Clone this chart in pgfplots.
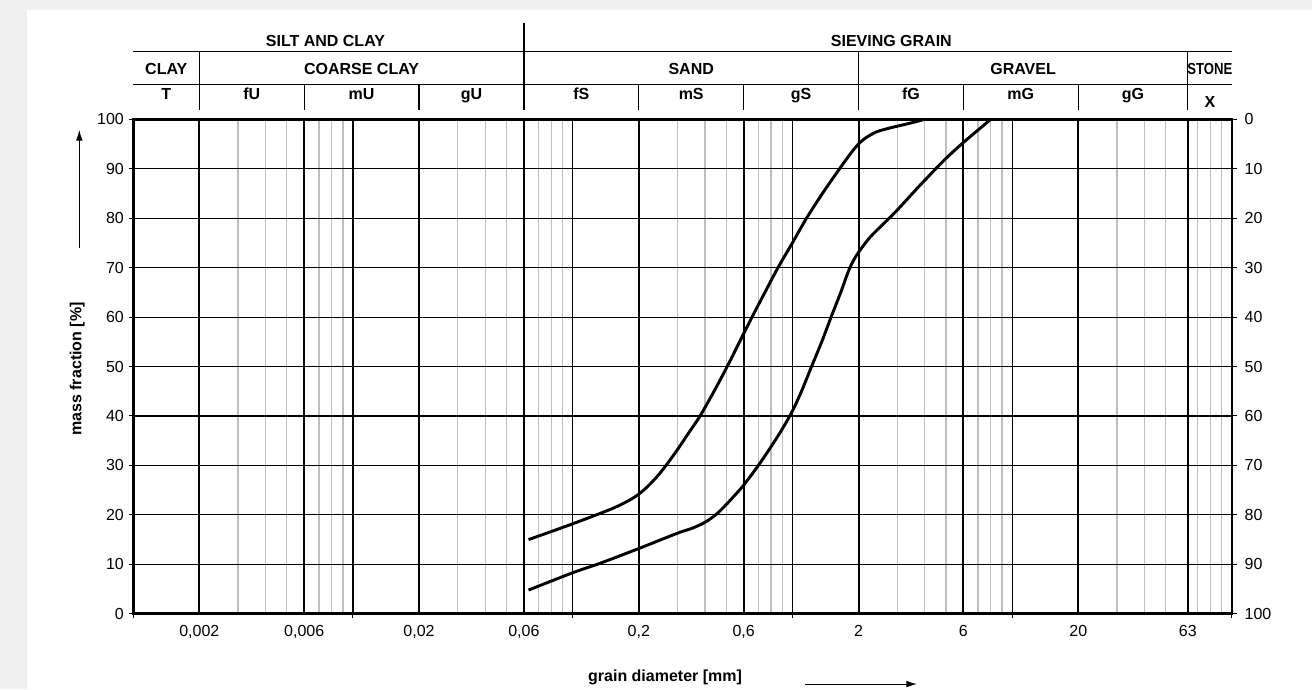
\documentclass[border=0pt]{standalone}
\usepackage{fontspec}
\setmainfont{Liberation Sans}
\usepackage{pgfplots}
\pgfplotsset{compat=1.18}
\usetikzlibrary{arrows.meta}
\definecolor{bg}{HTML}{F0F0F0}
\definecolor{thin}{HTML}{707070}
\newcommand\hf{\fontsize{12}{14}\selectfont\bfseries}
\newcommand\tf{\fontsize{12}{14}\selectfont}

\begin{document}
\begin{tikzpicture}
% page background and white panel (1 px = 0.75pt)
\fill[bg] (-99.9pt,-56.4pt) rectangle (884.1pt,460.35pt);
\fill[white] (-79.65pt,-56.4pt) rectangle (884.1pt,452.85pt);

\begin{axis}[
    at={(0,0)}, anchor=south west,
    scale only axis, width=824pt, height=370.9pt,
    xmode=log, xmin=0.001, xmax=100,
    ymin=0, ymax=100,
    clip=false,
    axis line style={line width=2pt},
    xtick={0.001,0.01,0.1,1,10,100}, xticklabels={},
    minor xtick={0.003,0.004,0.005,0.007,0.008,0.009,
                 0.03,0.04,0.05,0.07,0.08,0.09,
                 0.3,0.4,0.5,0.7,0.8,0.9,
                 3,4,5,7,8,9,
                 30,40,50,70,80,90},
    ytick={0,10,...,100},
    xtick pos=left, ytick pos=left,
    tick align=outside,
    major tick length=3.5pt, minor tick length=0pt,
    tick style={black, line width=0.75pt},
    xmajorgrids, xminorgrids, ymajorgrids,
    major grid style={black, line width=0.8pt},
    major x grid style={thin, line width=0.95pt},
    minor x grid style={thin, line width=0.95pt},
    extra x ticks={0.002,0.006,0.02,0.06,0.2,0.6,2,6,20,63},
    extra x tick labels={{0,002},{0,006},{0,02},{0,06},{0,2},{0,6},2,6,20,63},
    extra x tick style={
        grid=major, major tick length=0pt,
        major x grid style={black, line width=1.5pt},
        xticklabel style={yshift=-5pt}},
    tick label style={font=\tf},
    /pgf/number format/assume math mode=true,
]

% grading curves
\addplot[black, line width=2.2pt, smooth] coordinates {
    (0.063,15) (0.1,18.2) (0.15,21.2) (0.18,22.9) (0.2,24.2) (0.22,25.8)
    (0.245,28) (0.27,30.4) (0.3,33.2) (0.34,36.8) (0.38,40) (0.44,45)
    (0.505,50) (0.575,55) (0.65,59.7) (0.75,65) (0.86,70) (1.0,75)
    (1.16,80) (1.37,85) (1.64,90) (1.85,93.2) (2.0,95) (2.15,96.2)
    (2.4,97.4) (2.7,98.1) (3.0,98.6) (3.5,99.3) (4.0,100)
};
\addplot[black, line width=2.2pt, smooth] coordinates {
    (0.063,4.8) (0.1,8.3) (0.133,10.2) (0.2,13.2) (0.3,16.3) (0.35,17.3)
    (0.4,18.5) (0.45,20.1) (0.5,22.1) (0.55,24.1) (0.6,26) (0.7,30)
    (0.8,33.8) (0.9,37.4) (1.0,41) (1.1,45) (1.23,50.3) (1.36,55)
    (1.5,60) (1.66,65) (1.8,69.3) (1.9,71.5) (2.0,73.1) (2.15,75)
    (2.33,76.8) (2.95,81.3) (3.8,86.6) (4.9,91.7) (6.0,95.3) (8.0,100)
};

% header table
\draw[line width=0.9pt] (axis cs:0.001,113.67) -- (axis cs:100,113.67);
\draw[line width=0.9pt] (axis cs:0.001,107.08) -- (axis cs:100,107.08);
\draw[line width=0.9pt] (axis cs:0.06,119.41) -- (axis cs:0.06,101.88);
\draw[line width=0.9pt] (axis cs:0.002,113.67) -- (axis cs:0.002,101.88);
\draw[line width=0.9pt] (axis cs:2,113.67) -- (axis cs:2,101.88);
\draw[line width=0.9pt] (axis cs:63,113.67) -- (axis cs:63,101.88);
\draw[line width=0.9pt] (axis cs:0.006,107.08) -- (axis cs:0.006,101.88);
\draw[line width=0.9pt] (axis cs:0.02,107.08) -- (axis cs:0.02,101.88);
\draw[line width=0.9pt] (axis cs:0.2,107.08) -- (axis cs:0.2,101.88);
\draw[line width=0.9pt] (axis cs:0.6,107.08) -- (axis cs:0.6,101.88);
\draw[line width=0.9pt] (axis cs:6,107.08) -- (axis cs:6,101.88);
\draw[line width=0.9pt] (axis cs:20,107.08) -- (axis cs:20,101.88);

\node[font=\hf, anchor=base] at (axis cs:0.0075,114.68) {SILT AND CLAY};
\node[font=\hf, anchor=base] at (axis cs:2.82,114.68) {SIEVING GRAIN};

\node[font=\hf, anchor=base] at (axis cs:0.001414,108.96) {CLAY};
\node[font=\hf, anchor=base] at (axis cs:0.01095,108.96) {COARSE CLAY};
\node[font=\hf, anchor=base] at (axis cs:0.3464,108.96) {SAND};
\node[font=\hf, anchor=base] at (axis cs:11.22,108.96) {GRAVEL};
\node[font=\hf, anchor=base, xscale=0.82] at (axis cs:79.4,108.96) {STONE};

\node[font=\hf, anchor=base] at (axis cs:0.001414,103.9) {T};
\node[font=\hf, anchor=base] at (axis cs:0.003464,103.9) {fU};
\node[font=\hf, anchor=base] at (axis cs:0.01095,103.9) {mU};
\node[font=\hf, anchor=base] at (axis cs:0.03464,103.9) {gU};
\node[font=\hf, anchor=base] at (axis cs:0.1095,103.9) {fS};
\node[font=\hf, anchor=base] at (axis cs:0.3464,103.9) {mS};
\node[font=\hf, anchor=base] at (axis cs:1.095,103.9) {gS};
\node[font=\hf, anchor=base] at (axis cs:3.464,103.9) {fG};
\node[font=\hf, anchor=base] at (axis cs:10.95,103.9) {mG};
\node[font=\hf, anchor=base] at (axis cs:35.5,103.9) {gG};
\node[font=\hf, anchor=base] at (axis cs:79.4,102.3) {X};
\end{axis}

% right-hand scale (passing fraction)
\begin{axis}[
    at={(0,0)}, anchor=south west,
    scale only axis, width=824pt, height=370.9pt,
    xmin=0, xmax=1, ymin=0, ymax=100, y dir=reverse,
    axis x line=none, axis y line*=right,
    axis line style={line width=2pt},
    ytick={0,10,...,100},
    tick align=outside, major tick length=3.5pt,
    tick style={black, line width=0.75pt},
    tick label style={font=\tf},
    yticklabel style={xshift=2.5pt},
    /pgf/number format/assume math mode=true,
]
\end{axis}

% axis titles
\node[font=\hf, rotate=90] at (-41.9pt,183.6pt) {mass fraction [\%]};
\draw[thin, line width=0.75pt, -{Latex[length=8pt,width=5pt]}]
    (-40.4pt,274.1pt) -- (-40.4pt,362.9pt);
\node[font=\hf] at (398.9pt,-47.4pt) {grain diameter [mm]};
\draw[line width=0.75pt, -{Latex[length=8pt,width=5pt]}]
    (503.9pt,-52.7pt) -- (587.9pt,-52.7pt);

\pgfresetboundingbox
\useasboundingbox (-99.9pt,-56.4pt) rectangle (884.1pt,460.35pt);
\end{tikzpicture}
\end{document}
